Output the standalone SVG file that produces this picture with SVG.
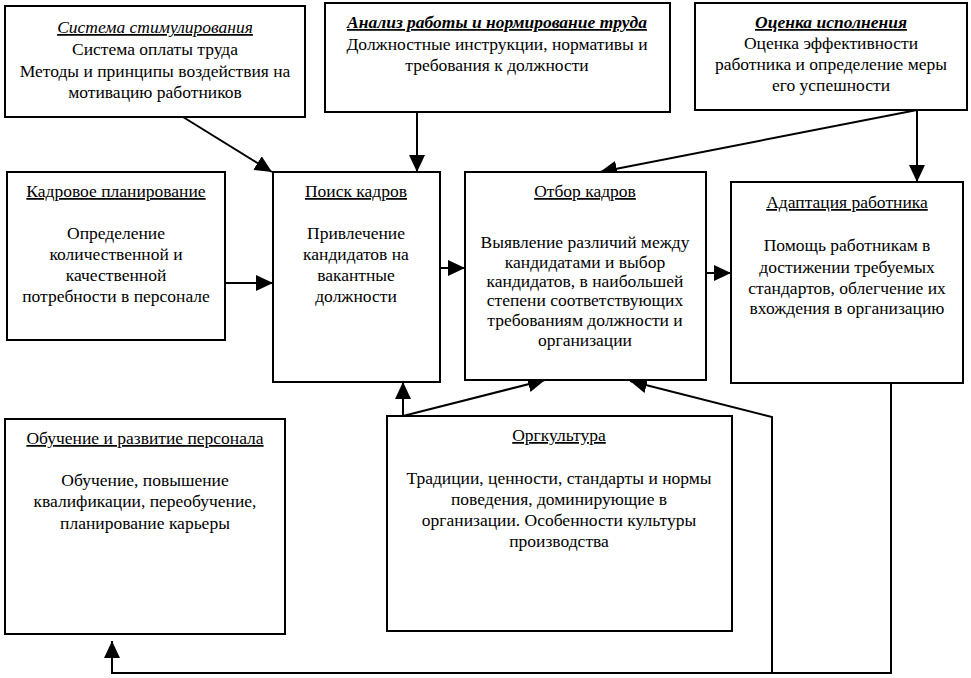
<svg xmlns="http://www.w3.org/2000/svg" width="971" height="678" viewBox="0 0 971 678">
<defs>
  <marker id="ah" markerUnits="userSpaceOnUse" markerWidth="17" markerHeight="16" refX="17" refY="8" orient="auto" viewBox="0 0 17 16">
    <path d="M0,0 L17,8 L0,16 Z" fill="#000000"/>
  </marker>
</defs>
<rect width="971" height="678" fill="#ffffff"/>

<g id="connectors" fill="none" stroke="#000000" stroke-width="2">
  <line x1="183" y1="117" x2="272" y2="172" marker-end="url(#ah)"/>
  <line x1="417" y1="112" x2="417" y2="172" marker-end="url(#ah)"/>
  <line x1="917" y1="110" x2="600" y2="172" marker-end="url(#ah)"/>
  <line x1="917" y1="110" x2="917" y2="182" marker-end="url(#ah)"/>
  <line x1="225" y1="283" x2="273" y2="283" marker-end="url(#ah)"/>
  <line x1="440" y1="268" x2="465" y2="268" marker-end="url(#ah)"/>
  <line x1="706" y1="273" x2="731" y2="273" marker-end="url(#ah)"/>
  <line x1="403" y1="416" x2="403" y2="382" marker-end="url(#ah)"/>
  <line x1="403" y1="416" x2="545" y2="380" marker-end="url(#ah)"/>
  <polyline points="772,673 772,417 630,381" marker-end="url(#ah)"/>
  <polyline points="891,383 891,673 112,673 112,641" marker-end="url(#ah)"/>
</g>

<g id="sistema-stimulirovaniya">
  <rect x="5" y="6" width="300" height="111" fill="#ffffff" stroke="#000000" stroke-width="2"/>
  <text x="155" y="33" font-family="Liberation Serif" font-size="17.5" text-anchor="middle" font-style="italic" text-decoration="underline">Система стимулирования</text>
  <text x="155" y="55" font-family="Liberation Serif" font-size="17.5" text-anchor="middle">Система оплаты труда</text>
  <text x="155" y="77" font-family="Liberation Serif" font-size="17.5" text-anchor="middle">Методы и принципы воздействия на</text>
  <text x="155" y="98" font-family="Liberation Serif" font-size="17.5" text-anchor="middle">мотивацию работников</text>
</g>

<g id="analiz-raboty">
  <rect x="325" y="3" width="345" height="109" fill="#ffffff" stroke="#000000" stroke-width="2"/>
  <text x="497" y="28" font-family="Liberation Serif" font-size="17.5" text-anchor="middle" font-style="italic" font-weight="bold" text-decoration="underline">Анализ работы и нормирование труда</text>
  <text x="497" y="50" font-family="Liberation Serif" font-size="17.5" text-anchor="middle">Должностные инструкции, нормативы и</text>
  <text x="497" y="71" font-family="Liberation Serif" font-size="17.5" text-anchor="middle">требования к должности</text>
</g>

<g id="ocenka-ispolneniya">
  <rect x="695" y="3" width="272" height="107" fill="#ffffff" stroke="#000000" stroke-width="2"/>
  <text x="831" y="28" font-family="Liberation Serif" font-size="17.5" text-anchor="middle" font-style="italic" font-weight="bold" text-decoration="underline">Оценка исполнения</text>
  <text x="831" y="49" font-family="Liberation Serif" font-size="17.5" text-anchor="middle">Оценка эффективности</text>
  <text x="831" y="70" font-family="Liberation Serif" font-size="17.5" text-anchor="middle">работника и определение меры</text>
  <text x="831" y="91" font-family="Liberation Serif" font-size="17.5" text-anchor="middle">его успешности</text>
</g>

<g id="kadrovoe-planirovanie">
  <rect x="7" y="172" width="218" height="168" fill="#ffffff" stroke="#000000" stroke-width="2"/>
  <text x="116" y="197" font-family="Liberation Serif" font-size="17.5" text-anchor="middle" text-decoration="underline">Кадровое планирование</text>
  <text x="116" y="239" font-family="Liberation Serif" font-size="17.5" text-anchor="middle">Определение</text>
  <text x="116" y="260" font-family="Liberation Serif" font-size="17.5" text-anchor="middle">количественной и</text>
  <text x="116" y="281" font-family="Liberation Serif" font-size="17.5" text-anchor="middle">качественной</text>
  <text x="116" y="302" font-family="Liberation Serif" font-size="17.5" text-anchor="middle">потребности в персонале</text>
</g>

<g id="poisk-kadrov">
  <rect x="273" y="172" width="167" height="210" fill="#ffffff" stroke="#000000" stroke-width="2"/>
  <text x="356" y="197" font-family="Liberation Serif" font-size="17.5" text-anchor="middle" text-decoration="underline">Поиск кадров</text>
  <text x="356" y="239" font-family="Liberation Serif" font-size="17.5" text-anchor="middle">Привлечение</text>
  <text x="356" y="260" font-family="Liberation Serif" font-size="17.5" text-anchor="middle">кандидатов на</text>
  <text x="356" y="281" font-family="Liberation Serif" font-size="17.5" text-anchor="middle">вакантные</text>
  <text x="356" y="302" font-family="Liberation Serif" font-size="17.5" text-anchor="middle">должности</text>
</g>

<g id="otbor-kadrov">
  <rect x="465" y="172" width="241" height="208" fill="#ffffff" stroke="#000000" stroke-width="2"/>
  <text x="585" y="197" font-family="Liberation Serif" font-size="17.5" text-anchor="middle" text-decoration="underline">Отбор кадров</text>
  <text x="585" y="248" font-family="Liberation Serif" font-size="17.5" text-anchor="middle">Выявление различий между</text>
  <text x="585" y="268" font-family="Liberation Serif" font-size="17.5" text-anchor="middle">кандидатами и выбор</text>
  <text x="585" y="287" font-family="Liberation Serif" font-size="17.5" text-anchor="middle">кандидатов, в наибольшей</text>
  <text x="585" y="306" font-family="Liberation Serif" font-size="17.5" text-anchor="middle">степени соответствующих</text>
  <text x="585" y="326" font-family="Liberation Serif" font-size="17.5" text-anchor="middle">требованиям должности и</text>
  <text x="585" y="346" font-family="Liberation Serif" font-size="17.5" text-anchor="middle">организации</text>
</g>

<g id="adaptaciya-rabotnika">
  <rect x="731" y="182" width="232" height="201" fill="#ffffff" stroke="#000000" stroke-width="2"/>
  <text x="847" y="208" font-family="Liberation Serif" font-size="17.5" text-anchor="middle" text-decoration="underline">Адаптация работника</text>
  <text x="847" y="251" font-family="Liberation Serif" font-size="17.5" text-anchor="middle">Помощь работникам в</text>
  <text x="847" y="273" font-family="Liberation Serif" font-size="17.5" text-anchor="middle">достижении требуемых</text>
  <text x="847" y="294" font-family="Liberation Serif" font-size="17.5" text-anchor="middle">стандартов, облегчение их</text>
  <text x="847" y="314" font-family="Liberation Serif" font-size="17.5" text-anchor="middle">вхождения в организацию</text>
</g>

<g id="obuchenie-i-razvitie">
  <rect x="5" y="419" width="280" height="215" fill="#ffffff" stroke="#000000" stroke-width="2"/>
  <text x="145" y="444" font-family="Liberation Serif" font-size="17.5" text-anchor="middle" text-decoration="underline">Обучение и развитие персонала</text>
  <text x="145" y="486" font-family="Liberation Serif" font-size="17.5" text-anchor="middle">Обучение, повышение</text>
  <text x="145" y="507" font-family="Liberation Serif" font-size="17.5" text-anchor="middle">квалификации, переобучение,</text>
  <text x="145" y="529" font-family="Liberation Serif" font-size="17.5" text-anchor="middle">планирование карьеры</text>
</g>

<g id="orgkultura">
  <rect x="387" y="416" width="345" height="215" fill="#ffffff" stroke="#000000" stroke-width="2"/>
  <text x="559" y="441" font-family="Liberation Serif" font-size="17.5" text-anchor="middle" text-decoration="underline">Оргкультура</text>
  <text x="559" y="484" font-family="Liberation Serif" font-size="17.5" text-anchor="middle">Традиции, ценности, стандарты и нормы</text>
  <text x="559" y="505" font-family="Liberation Serif" font-size="17.5" text-anchor="middle">поведения, доминирующие в</text>
  <text x="559" y="526" font-family="Liberation Serif" font-size="17.5" text-anchor="middle">организации. Особенности культуры</text>
  <text x="559" y="547" font-family="Liberation Serif" font-size="17.5" text-anchor="middle">производства</text>
</g>
</svg>
